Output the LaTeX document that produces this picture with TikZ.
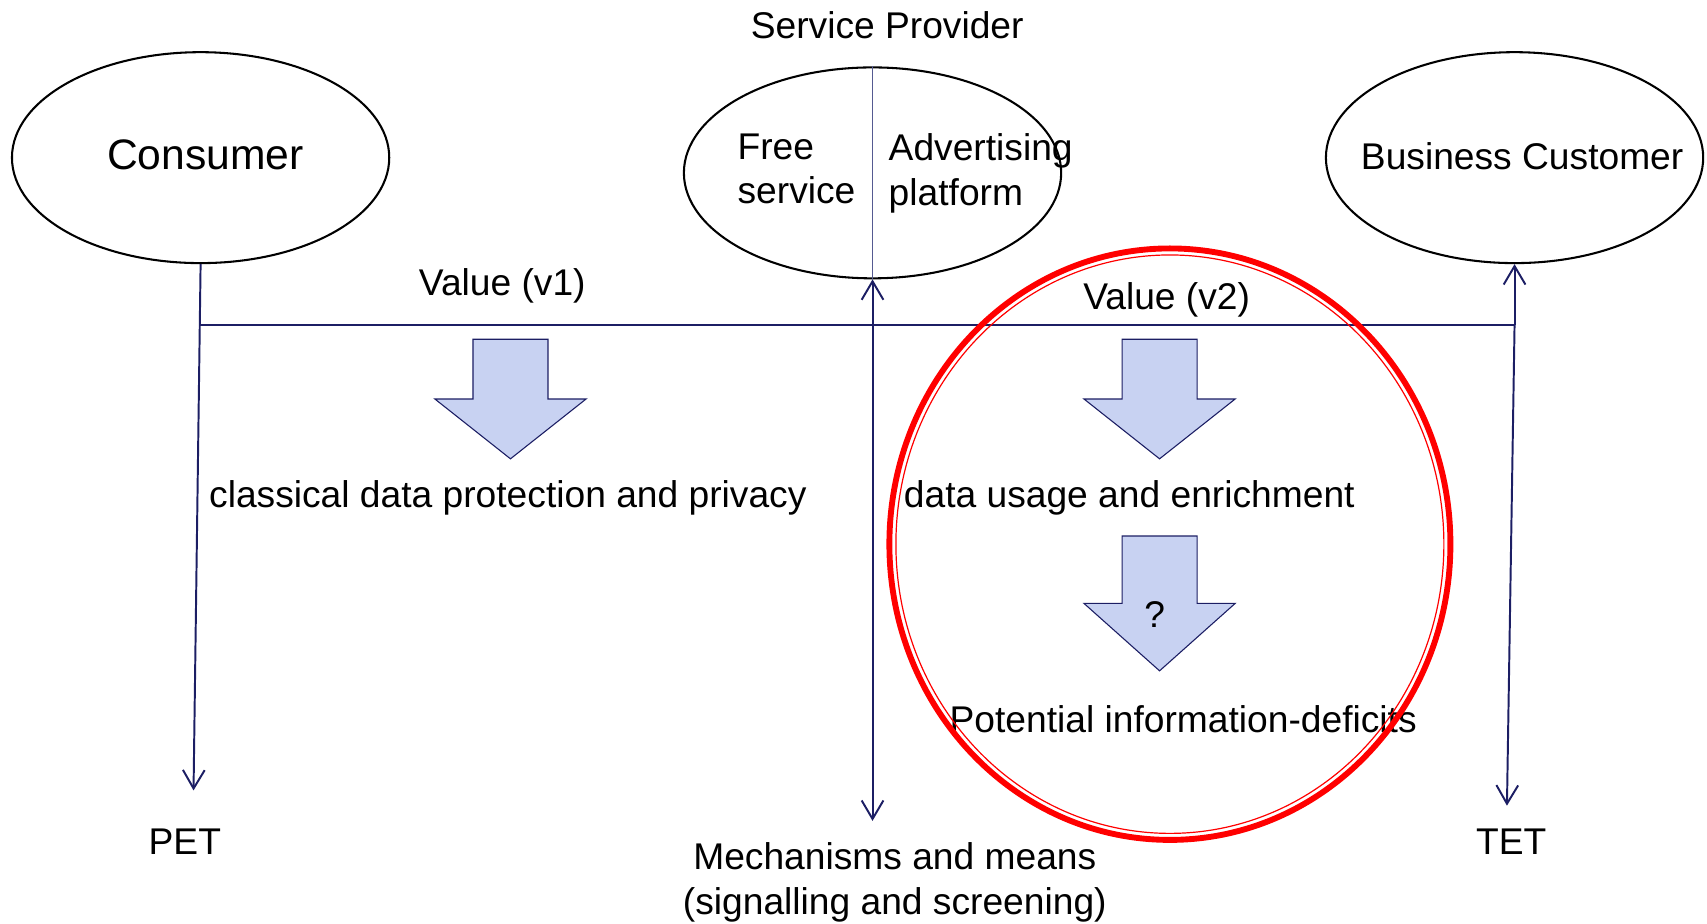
\documentclass[tikz,border=0pt]{standalone}
\usepackage{fontspec}
\setmainfont{Liberation Sans}
\usetikzlibrary{shapes.geometric,arrows.meta}
\definecolor{navy}{RGB}{28,30,100}
\definecolor{divline}{RGB}{85,90,145}
\definecolor{blockfill}{RGB}{200,210,242}
\definecolor{ringred}{RGB}{255,0,0}
\begin{document}
\begin{tikzpicture}[x=0.5pt,y=-0.5pt,
  actor/.style={ellipse,draw=black,line width=0.95pt,minimum width=173.5pt,minimum height=97pt,inner sep=0pt},
  lbl/.style={font=\fontsize{17.1}{20.5}\selectfont,inner sep=0pt,anchor=base},
  conn/.style={draw=navy,line width=0.9pt},
  barb/.tip={Straight Barb[length=8.5pt,width=10pt,line width=0.9pt]},
  tipend/.style={-barb},
  blockarrow/.style={fill=blockfill,draw=navy,line width=0.5pt},
  ]
\useasboundingbox (0,0) rectangle (1570,849);
% actors
\node[actor] (cons) at (184.5,145) {};
\node[actor] (sp) at (802.5,159) {};
\node[actor] (bc) at (1393,145) {};
\node[lbl,font=\fontsize{19.6}{23}\selectfont] (consT) at (189,156) {Consumer};
\node[lbl] (spT) at (816,35) {Service Provider};
\node[lbl] (bcT) at (1400,156) {Business Customer};
\node[lbl,anchor=north west,align=left] (free) at (678,122.7) {Free\\service};
\node[lbl,anchor=north west,align=left] (adv) at (817,122.7) {Advertising\\platform};
% connectors
\coordinate (hl) at (184,299);
\coordinate (hr) at (1393,299);
\coordinate (petend) at (178,727);
\coordinate (tetend) at (1386,741);
\coordinate (mechend) at (802.5,755);
\draw[divline,line width=0.6pt] (sp.north) -- (sp.south);
\draw[conn,line width=1.1pt] (hl) -- (hr);
\draw[conn,tipend] (cons.south) -- (petend);
\draw[conn,tipend] (hr) -- (bc.south);
\draw[conn,tipend] (hr) -- (tetend);
\draw[conn,barb-barb] (sp.south) -- (mechend);
% block arrows
\path[blockarrow] (435,312) -- (504,312) -- (504,367) -- (539,367) -- (469.5,422) -- (400,367) -- (435,367) -- cycle;
\path[blockarrow] (1032,312) -- (1101,312) -- (1101,367) -- (1136,367) -- (1066.5,422) -- (997,367) -- (1032,367) -- cycle;
\path[blockarrow] (1032,493) -- (1101,493) -- (1101,555) -- (1136,555) -- (1066.5,617) -- (997,555) -- (1032,555) -- cycle;
% labels
\node[lbl] (v1) at (462,272) {Value (v1)};
\node[lbl] (v2) at (1073,285) {Value (v2)};
\node[lbl,anchor=base west] (classic) at (192,467) {classical data protection and privacy};
\node[lbl,anchor=base west] (usage) at (831,467) {data usage and enrichment};
\node[lbl] (q) at (1062,577) {?};
\node[lbl,anchor=base west] (deficit) at (873,674) {Potential information-deficits};
\node[lbl] (pet) at (170,786) {PET};
\node[lbl] (tet) at (1390,786) {TET};
\node[lbl,anchor=north,align=center] (mech) at (823,774.7) {Mechanisms and means\\(signalling and screening)};
% highlight ring
\draw[ringred,line width=2.7pt] (1076,500.5) ellipse [x radius=258, y radius=272];
\draw[ringred,line width=0.55pt] (1076,500.5) ellipse [x radius=252, y radius=266];
\end{tikzpicture}
\end{document}
